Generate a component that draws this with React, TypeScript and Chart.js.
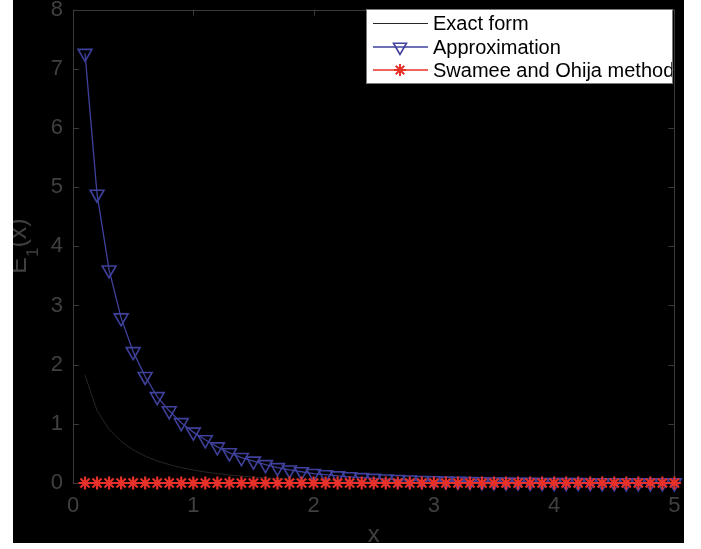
import { useEffect, useRef } from 'react';
import { Chart, registerables } from 'chart.js';

Chart.register(...registerables);

const xValues = [
  0.1, 0.2, 0.3, 0.4, 0.5, 0.6, 0.7, 0.8, 0.9, 1.0,
  1.1, 1.2, 1.3, 1.4, 1.5, 1.6, 1.7, 1.8, 1.9, 2.0,
  2.1, 2.2, 2.3, 2.4, 2.5, 2.6, 2.7, 2.8, 2.9, 3.0,
  3.1, 3.2, 3.3, 3.4, 3.5, 3.6, 3.7, 3.8, 3.9, 4.0,
  4.1, 4.2, 4.3, 4.4, 4.5, 4.6, 4.7, 4.8, 4.9, 5.0,
];

const exactValues = [
  1.8229, 1.2227, 0.9057, 0.7024, 0.5598, 0.4544, 0.3738, 0.3106, 0.2602, 0.2194,
  0.186, 0.1584, 0.1355, 0.1162, 0.1, 0.0863, 0.0747, 0.0647, 0.0562, 0.0489,
  0.0426, 0.0372, 0.0325, 0.0284, 0.0249, 0.0219, 0.0192, 0.0169, 0.0148, 0.013,
  0.0115, 0.0101, 0.0089, 0.0079, 0.007, 0.0062, 0.0055, 0.0048, 0.0043, 0.0038,
  0.0033, 0.003, 0.0026, 0.0023, 0.0021, 0.0018, 0.0016, 0.0014, 0.0013, 0.0011,
];

const approxValues = [
  7.26, 4.88, 3.6, 2.79, 2.22, 1.8, 1.46, 1.22, 1.02, 0.86,
  0.73, 0.61, 0.51, 0.43, 0.37, 0.31, 0.26, 0.22, 0.19, 0.16,
  0.14, 0.12, 0.105, 0.09, 0.078, 0.067, 0.058, 0.05, 0.043, 0.037,
  0.032, 0.027, 0.023, 0.02, 0.017, 0.015, 0.013, 0.011, 0.009, 0.008,
  0.007, 0.006, 0.005, 0.0045, 0.004, 0.0035, 0.003, 0.0026, 0.0023, 0.002,
];

const swameeValues = [
  0, 0, 0, 0, 0, 0, 0, 0, 0, 0,
  0, 0, 0, 0, 0, 0, 0, 0, 0, 0,
  0, 0, 0, 0, 0, 0, 0, 0, 0, 0,
  0, 0, 0, 0, 0, 0, 0, 0, 0, 0,
  0, 0, 0, 0, 0, 0, 0, 0, 0, 0,
];

const xTickValues = [0, 1, 2, 3, 4, 5];
const yTickValues = [0, 1, 2, 3, 4, 5, 6, 7, 8];

const seriesNames = ['Exact form', 'Approximation', 'Swamee and Ohija method'];
const xTitle = 'x';
const yTitleMain = 'E';
const yTitleSub = '1';
const yTitleTail = '(x)';

const AXIS_COLOR = '#3a3a3a';
const TICK_TEXT = '#404040';
const EXACT_COLOR = '#262626';
const APPROX_COLOR = '#3f419c';
const SWAMEE_COLOR = '#e8302a';
const FONT = '"Liberation Sans", Arial, Helvetica, sans-serif';

function drawTriangleDown(ctx: CanvasRenderingContext2D, x: number, y: number, r: number) {
  ctx.beginPath();
  for (let k = 0; k < 3; k++) {
    const a = Math.PI + (k * 2 * Math.PI) / 3;
    const px = x + Math.sin(a) * r;
    const py = y - Math.cos(a) * r;
    if (k === 0) ctx.moveTo(px, py);
    else ctx.lineTo(px, py);
  }
  ctx.closePath();
  ctx.stroke();
}

function drawStar(ctx: CanvasRenderingContext2D, x: number, y: number, r: number) {
  ctx.beginPath();
  for (let k = 0; k < 4; k++) {
    const a = (k * Math.PI) / 4;
    ctx.moveTo(x - Math.cos(a) * r, y - Math.sin(a) * r);
    ctx.lineTo(x + Math.cos(a) * r, y + Math.sin(a) * r);
  }
  ctx.stroke();
}

const framePlugin = {
  id: 'matlabFrame',
  beforeDatasetsDraw(chart: any) {
    const { ctx, chartArea, scales } = chart;
    const { left, right, top, bottom } = chartArea;
    ctx.save();
    ctx.strokeStyle = AXIS_COLOR;
    ctx.lineWidth = 1;
    ctx.strokeRect(Math.round(left) + 0.5, Math.round(top) + 0.5, Math.round(right - left), Math.round(bottom - top));
    const tl = 6;
    ctx.beginPath();
    xTickValues.forEach((v) => {
      const px = Math.round(scales.x.getPixelForValue(v)) + 0.5;
      ctx.moveTo(px, bottom);
      ctx.lineTo(px, bottom - tl);
      ctx.moveTo(px, top);
      ctx.lineTo(px, top + tl);
    });
    yTickValues.forEach((v) => {
      const py = Math.round(scales.y.getPixelForValue(v)) + 0.5;
      ctx.moveTo(left, py);
      ctx.lineTo(left + tl, py);
      ctx.moveTo(right, py);
      ctx.lineTo(right - tl, py);
    });
    ctx.stroke();
    ctx.restore();
  },
  afterDraw(chart: any) {
    const { ctx, chartArea } = chart;
    ctx.save();
    // axis titles
    ctx.fillStyle = TICK_TEXT;
    ctx.font = `24px ${FONT}`;
    ctx.textAlign = 'center';
    ctx.textBaseline = 'alphabetic';
    ctx.fillText(xTitle, (chartArea.left + chartArea.right) / 2, 542);

    ctx.textAlign = 'left';
    const mainFont = `25px ${FONT}`;
    const subFont = `17px ${FONT}`;
    ctx.font = mainFont;
    const wE = ctx.measureText(yTitleMain).width;
    const wT = ctx.measureText(yTitleTail).width;
    ctx.font = subFont;
    const w1 = ctx.measureText(yTitleSub).width;
    const total = wE + w1 + wT;
    ctx.translate(12.5, 246);
    ctx.rotate(-Math.PI / 2);
    let u = -total / 2;
    ctx.font = mainFont;
    ctx.fillText(yTitleMain, u, 0);
    u += wE;
    ctx.font = subFont;
    ctx.fillText(yTitleSub, u, 12);
    u += w1;
    ctx.font = mainFont;
    ctx.fillText(yTitleTail, u, 0);
    ctx.restore();

    // legend
    ctx.save();
    const bw = 306;
    const bh = 74;
    const bx = Math.round(chartArea.right) - 2 - bw;
    const by = Math.round(chartArea.top) - 1;
    ctx.fillStyle = '#ffffff';
    ctx.fillRect(bx, by, bw, bh);
    ctx.strokeStyle = '#7a7a7a';
    ctx.lineWidth = 1;
    ctx.strokeRect(bx + 0.5, by + 0.5, bw, bh);
    ctx.beginPath();
    ctx.rect(bx + 1, by + 1, bw - 1, bh - 1);
    ctx.clip();
    const rows = [14.5, 38, 61];
    const colors = [EXACT_COLOR, APPROX_COLOR, SWAMEE_COLOR];
    rows.forEach((ry, i) => {
      const yy = by + ry;
      ctx.strokeStyle = colors[i];
      ctx.lineWidth = i === 0 ? 1 : 1.3;
      ctx.beginPath();
      ctx.moveTo(bx + 7, yy);
      ctx.lineTo(bx + 62, yy);
      ctx.stroke();
      if (i === 1) {
        ctx.lineWidth = 1.6;
        drawTriangleDown(ctx, bx + 34, yy, 7.5);
      } else if (i === 2) {
        ctx.lineWidth = 2;
        drawStar(ctx, bx + 34, yy, 6);
      }
      ctx.fillStyle = '#000000';
      ctx.font = `20px ${FONT}`;
      ctx.textAlign = 'left';
      ctx.textBaseline = 'middle';
      ctx.fillText(seriesNames[i], bx + 67, yy + 1);
    });
    ctx.restore();
  },
};

export default function App() {
  const canvasRef = useRef<HTMLCanvasElement | null>(null);

  useEffect(() => {
    document.body.style.margin = '0';
    const canvas = canvasRef.current;
    if (!canvas) return;

    const toPoints = (ys: number[]) => xValues.map((x, i) => ({ x, y: ys[i] }));

    const chart = new Chart(canvas, {
      type: 'line',
      data: {
        datasets: [
          {
            label: seriesNames[0],
            data: toPoints(exactValues),
            borderColor: EXACT_COLOR,
            borderWidth: 1,
            pointRadius: 0,
            fill: false,
            tension: 0,
            order: 3,
          },
          {
            label: seriesNames[1],
            data: toPoints(approxValues),
            borderColor: APPROX_COLOR,
            borderWidth: 1.3,
            pointStyle: 'triangle',
            rotation: 180,
            pointRadius: 8,
            pointBorderWidth: 1.6,
            pointBorderColor: APPROX_COLOR,
            pointBackgroundColor: 'rgba(0,0,0,0)',
            fill: false,
            tension: 0,
            clip: false,
            order: 2,
          },
          {
            label: seriesNames[2],
            data: toPoints(swameeValues),
            borderColor: SWAMEE_COLOR,
            borderWidth: 1.3,
            pointStyle: 'star',
            pointRadius: 6.5,
            pointBorderWidth: 2.2,
            pointBorderColor: SWAMEE_COLOR,
            pointBackgroundColor: SWAMEE_COLOR,
            fill: false,
            tension: 0,
            clip: false,
            order: 1,
          },
        ],
      },
      options: {
        responsive: false,
        animation: false,
        events: [],
        layout: { padding: { top: 8, right: 7, left: 0, bottom: 0 } },
        plugins: {
          legend: { display: false },
          tooltip: { enabled: false },
          title: { display: false },
        },
        scales: {
          x: {
            type: 'linear',
            min: 0,
            max: 5,
            afterBuildTicks: (scale: any) => {
              scale.ticks = xTickValues.map((v) => ({ value: v }));
            },
            afterFit: (scale: any) => {
              scale.height = 60;
              scale.paddingLeft = 0;
              scale.paddingRight = 0;
            },
            grid: { display: false, drawTicks: false },
            border: { display: false },
            ticks: {
              color: TICK_TEXT,
              font: { family: FONT, size: 22 },
              padding: 10,
              maxRotation: 0,
              autoSkip: false,
            },
          },
          y: {
            type: 'linear',
            min: 0,
            max: 8,
            afterBuildTicks: (scale: any) => {
              scale.ticks = yTickValues.map((v) => ({ value: v }));
            },
            afterFit: (scale: any) => {
              scale.width = 60;
              scale.paddingTop = 0;
              scale.paddingBottom = 0;
            },
            grid: { display: false, drawTicks: false },
            border: { display: false },
            ticks: {
              color: TICK_TEXT,
              font: { family: FONT, size: 22 },
              padding: 10,
              autoSkip: false,
            },
          },
        },
      },
      plugins: [framePlugin],
    } as any);

    return () => {
      chart.destroy();
    };
  }, []);

  return (
    <div style={{ position: 'relative', width: 701, height: 549, background: '#ffffff', overflow: 'hidden' }}>
      <canvas
        ref={canvasRef}
        width={671}
        height={543}
        style={{ position: 'absolute', left: 13, top: 0, width: 671, height: 543, background: '#000000' }}
      />
    </div>
  );
}
